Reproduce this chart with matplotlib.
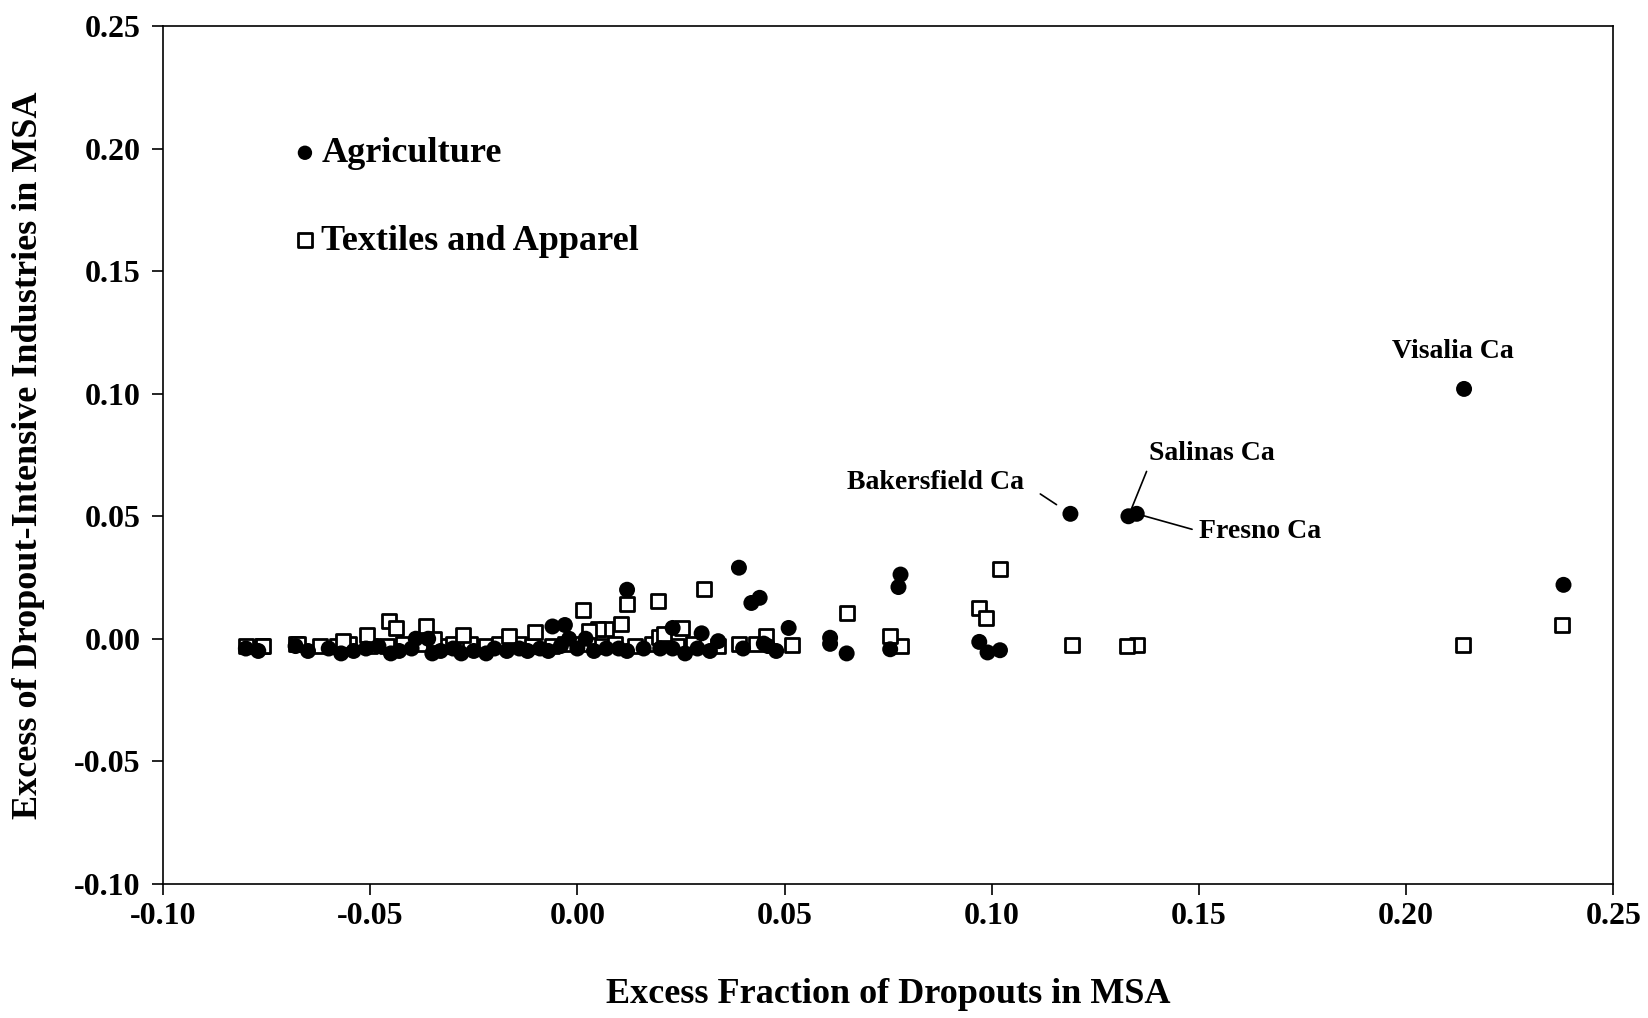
import matplotlib
matplotlib.use("Agg")
import matplotlib.pyplot as plt
from matplotlib.ticker import FormatStrFormatter

plt.rcParams['font.family'] = ['Liberation Serif', 'DejaVu Serif']
plt.rcParams['font.weight'] = 'bold'
plt.rcParams['axes.unicode_minus'] = False

# Agriculture (filled circles)
agri_x = [-0.080, -0.077, -0.068, -0.065, -0.060, -0.057, -0.054, -0.051, -0.048,
          -0.045, -0.043, -0.040, -0.039, -0.036, -0.035, -0.033, -0.030, -0.028,
          -0.025, -0.022, -0.020, -0.017, -0.014, -0.012, -0.009, -0.007, -0.004,
          -0.002, 0.000, 0.002, 0.004, 0.007, 0.010, 0.012, 0.016, 0.020, 0.023,
          0.026, 0.029, 0.032, 0.034, 0.040, 0.046, 0.048,
          0.214, 0.238, 0.119, 0.133, 0.135, 0.039, 0.012, 0.042, 0.044, 0.078,
          0.0775, 0.051, 0.023, 0.030, -0.006, -0.003, 0.061, 0.061, 0.097, 0.099,
          0.102, 0.0755, 0.065, 0.045]
agri_y = [-0.004, -0.005, -0.003, -0.005, -0.004, -0.006, -0.005, -0.004, -0.003,
          -0.006, -0.005, -0.004, 0.000, 0.000, -0.006, -0.005, -0.004, -0.006,
          -0.005, -0.006, -0.004, -0.005, -0.004, -0.005, -0.004, -0.005, -0.003,
          0.000, -0.004, 0.000, -0.005, -0.004, -0.004, -0.005, -0.004, -0.004, -0.004,
          -0.006, -0.004, -0.005, -0.001, -0.004, -0.003, -0.005,
          0.102, 0.022, 0.051, 0.050, 0.051, 0.029, 0.020, 0.0146, 0.0167, 0.0262,
          0.0211, 0.0044, 0.0044, 0.0022, 0.005, 0.0056, 0.0004, -0.0021, -0.0013, -0.0056,
          -0.0047, -0.0043, -0.006, -0.002]

# Textiles and Apparel (open squares)
tex_x = [-0.080, -0.076, -0.068, -0.062, -0.058, -0.055, -0.050, -0.046, -0.042,
         -0.038, -0.033, -0.030, -0.026, -0.022, -0.019, -0.014, -0.011, -0.006,
         -0.003, 0.001, 0.006, 0.009, 0.014, 0.018, 0.024, 0.028, 0.034, 0.039, 0.043,
         0.2376, 0.2137, 0.1351, 0.1326, 0.1194, 0.1021, 0.097, 0.0986, 0.078, 0.0755,
         0.065, 0.0517, 0.0456, 0.0306, 0.0195, 0.012, 0.0014, 0.0106, 0.0253, 0.007,
         0.005, 0.0027, 0.0197, 0.021, -0.0366, -0.0455, -0.0437, -0.0508, -0.0566,
         -0.0275, -0.0166, -0.0102, -0.0346, -0.0675, -0.0759]
tex_y = [-0.003, -0.003, -0.002, -0.003, -0.003, -0.002, -0.003, -0.003, -0.002,
         -0.002, -0.003, -0.002, -0.002, -0.003, -0.002, -0.002, -0.003, -0.003,
         -0.002, -0.002, -0.003, -0.002, -0.003, -0.002, -0.003, -0.002, -0.003, -0.002, -0.002,
         0.0056, -0.0026, -0.0026, -0.003, -0.0026, 0.0284, 0.0125, 0.0086, -0.003, 0.0013,
         0.0107, -0.0026, 0.0013, 0.0202, 0.0155, 0.0142, 0.0116, 0.006, 0.0043, 0.004,
         0.004, 0.003, 0.0009, 0.002, 0.005, 0.0073, 0.0043, 0.0017, -0.0009,
         0.0017, 0.0013, 0.0026, 0.0, -0.0021, -0.003]

# Labelled MSAs
labels = ["Visalia Ca", "Bakersfield Ca", "Salinas Ca", "Fresno Ca"]
label_x = [0.214, 0.119, 0.133, 0.135]
label_y = [0.102, 0.051, 0.050, 0.051]

xticks = [-0.10, -0.05, 0.00, 0.05, 0.10, 0.15, 0.20, 0.25]
yticks = [-0.10, -0.05, 0.00, 0.05, 0.10, 0.15, 0.20, 0.25]

fig = plt.figure(figsize=(16.48, 10.18), dpi=100)
ax = fig.add_axes([0.0989, 0.132, 0.880, 0.842])

ax.scatter(tex_x, tex_y, marker='s', s=10.5**2, facecolors='white',
           edgecolors='black', linewidths=2.0, label='Textiles and Apparel', zorder=2)
ax.scatter(agri_x, agri_y, marker='o', s=11.5**2, color='black',
           edgecolors='none', label='Agriculture', zorder=3)

ax.set_xlim(-0.10, 0.25)
ax.set_ylim(-0.10, 0.25)
ax.set_xticks(xticks)
ax.set_yticks(yticks)
ax.xaxis.set_major_formatter(FormatStrFormatter('%.2f'))
ax.yaxis.set_major_formatter(FormatStrFormatter('%.2f'))
ax.tick_params(axis='both', direction='out', length=8, width=1.2, labelsize=23)
ax.tick_params(axis='x', pad=5)
ax.tick_params(axis='y', pad=8)
for lab in ax.get_xticklabels() + ax.get_yticklabels():
    lab.set_fontweight('bold')
for sp in ax.spines.values():
    sp.set_linewidth(1.2)

ax.set_xlabel('Excess Fraction of Dropouts in MSA', fontsize=26, fontweight='bold', labelpad=34)
ax.set_ylabel('Excess of Dropout-Intensive Industries in MSA', fontsize=26, fontweight='bold', labelpad=21)

h, l = ax.get_legend_handles_labels()
leg = ax.legend([h[1], h[0]], [l[1], l[0]], loc='upper left', bbox_to_anchor=(0.068, 0.909),
                frameon=False, fontsize=26, labelspacing=1.5, handletextpad=0.15,
                handlelength=0.6, markerscale=0.9)
for t in leg.get_texts():
    t.set_fontweight('bold')

ann = dict(fontsize=20, fontweight='bold')
ax.annotate(labels[0], xy=(label_x[0], label_y[0]), xytext=(0.2114, 0.1173),
            ha='center', va='center', **ann)
ax.annotate(labels[1], xy=(label_x[1], label_y[1]), xytext=(0.1077, 0.0636),
            ha='right', va='center',
            arrowprops=dict(arrowstyle='-', color='black', lw=1.2, relpos=(1.0, 0.5),
                            shrinkA=12, shrinkB=12), **ann)
ax.annotate(labels[2], xy=(label_x[2], label_y[2]), xytext=(0.1379, 0.0756),
            ha='left', va='center',
            arrowprops=dict(arrowstyle='-', color='black', lw=1.2, relpos=(0.0, 0.0),
                            shrinkA=2, shrinkB=2), **ann)
ax.annotate(labels[3], xy=(label_x[3], label_y[3]), xytext=(0.150, 0.0439),
            ha='left', va='center',
            arrowprops=dict(arrowstyle='-', color='black', lw=1.2, relpos=(0.0, 0.5),
                            shrinkA=3, shrinkB=3), **ann)

fig.savefig('out.png', dpi=100)
